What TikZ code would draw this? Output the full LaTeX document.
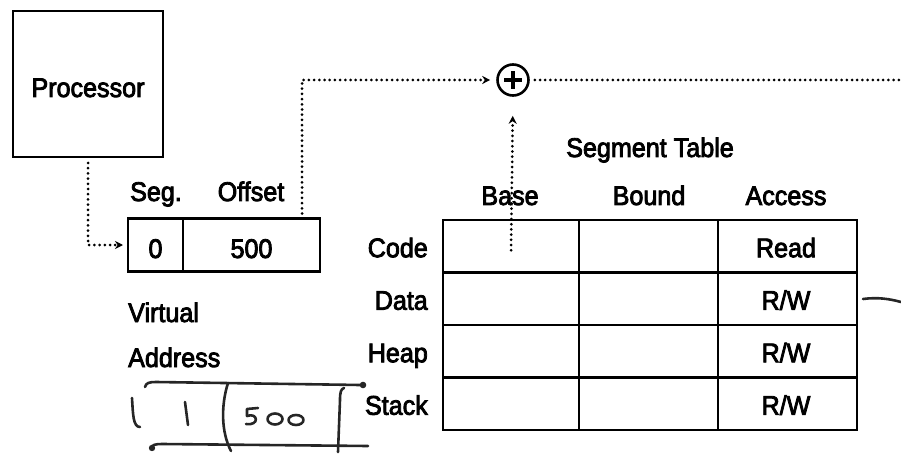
\documentclass[tikz,border=0pt]{standalone}
\usepackage{fontspec}
\setmainfont[FakeStretch=0.93,FakeBold=3]{Liberation Sans}
\usetikzlibrary{positioning, arrows.meta}
\newcommand{\rwacc}{R/W}

\begin{document}
\begin{tikzpicture}[x=1pt, y=-1pt, >={Stealth[length=8pt,width=8pt]},
    font=\fontsize{27}{31}\selectfont, inner sep=2pt,
    box/.style={draw, line width=2.6pt, inner sep=0pt, outer sep=0pt},
    cell/.style={draw, line width=2.4pt, minimum height=52.5pt, inner sep=0pt, outer sep=0pt},
    dots/.style={line width=3pt, dash pattern=on 0pt off 5.2pt, line cap=round},
    hand/.style={line width=2.6pt, line cap=round, line join=round, black!85}]
    \useasboundingbox (0,0) rectangle (901,454);

    %processor and virtual address
    \node (proc) [box, minimum width=150pt, minimum height=146pt] at (88,84) {};
    \node (proclbl) [anchor=base] at (88,97) {Processor};
    \node (seg) [box, minimum width=55pt, minimum height=53pt] at (155.5,245) {};
    \node (off) [box, minimum width=137pt, minimum height=53pt, right=0pt of seg] {};
    \node (segval) [anchor=base] at (seg.center |- 0,258) {0};
    \node (offval) [anchor=base] at (off.center |- 0,258) {500};
    \node (seglbl) [anchor=base] at (156,201) {Seg.};
    \node (offlbl) [anchor=base] at (251,201) {Offset};
    \node (virt) [anchor=base west] at (126,322) {Virtual};
    \node (addr) [anchor=base west] at (126,367) {Address};

    %segment table
    \node (title) [anchor=base] at (650,157) {Segment Table};
    \node (basehd) [anchor=base] at (510,205) {Base};
    \node (boundhd) [anchor=base] at (649,205) {Bound};
    \node (acchd) [anchor=base] at (786,205) {Access};
    \foreach \row/\acc [count=\i] in {Code/Read, Data/\rwacc, Heap/\rwacc, Stack/\rwacc} {
        \node (base-\i) [cell, minimum width=136pt] at (511,{193.75+52.5*\i}) {};
        \node (bound-\i) [cell, minimum width=139pt, right=0pt of base-\i] {};
        \node (acc-\i) [cell, minimum width=139pt, right=0pt of bound-\i] {};
        \node (accval-\i) [anchor=base] at (786,{204.75+52.5*\i}) {\acc};
        \node (lbl-\i) [anchor=base east] at (430,{204.75+52.5*\i}) {\row};
    }

    %adder
    \node (adder) [draw, circle, line width=2.6pt, minimum size=31pt, inner sep=0pt] at (513,80) {};
    \draw[line width=3.2pt] ([xshift=-9pt]adder.center) -- ([xshift=9pt]adder.center);
    \draw[line width=3.2pt] ([yshift=-9pt]adder.center) -- ([yshift=9pt]adder.center);
    \coordinate (exit) at (901,80);

    \draw[dots, ->, shorten <=6pt, shorten >=5pt] (proc.south) |- (seg.west);
    \draw[dots, ->, shorten <=5pt, shorten >=6pt] ([xshift=-18pt]off.north east) |- (adder.west);
    \draw[dots, ->, shorten >=19pt] ([yshift=-4pt]base-1.center) -- (adder.south);
    \draw[dots, shorten <=5pt] (adder.east) -- (exit);

    %handwritten notes
    \draw[hand] (145,387) .. controls (146,383) and (149,382) .. (156,382) -- (360,385);
    \fill[black!85] (363,385) circle (3.3);
    \draw[hand] (151,448) .. controls (152,445) and (155,444) .. (162,444) -- (368,446);
    \fill[black!85] (152,448) circle (3.2);
    \draw[hand] (132,398) .. controls (133,414) and (133,427) .. (140,427);
    \draw[hand] (185,402) -- (188,425);
    \draw[hand] (228,383) .. controls (221,405) and (221,432) .. (231,451);
    \draw[hand] (258,408) -- (247,409) -- (247,416) .. controls (258,412) and (260,426) .. (246,424);
    \draw[hand] (275,419) ellipse (7.5 and 5.5);
    \draw[hand] (296,420) ellipse (7.5 and 5);
    \draw[hand] (344,388) .. controls (341,389) and (340,392) .. (340,400) -- (338,452);
    \draw[hand] (863,299) .. controls (878,297) and (890,299) .. (901,302);
\end{tikzpicture}
\end{document}
